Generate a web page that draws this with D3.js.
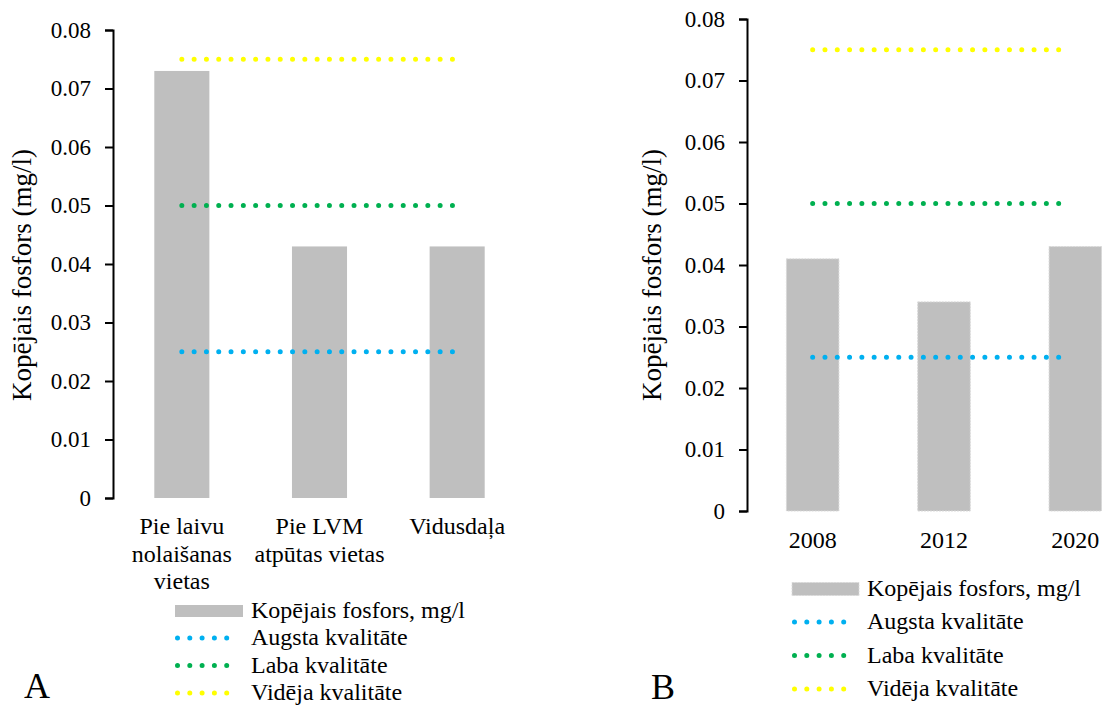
<!DOCTYPE html>
<html><head><meta charset="utf-8">
<script src="https://cdn.jsdelivr.net/npm/d3@7"></script>
<style>body{margin:0;background:#fff}svg{display:block}</style>
</head><body><svg id="c" width="1102" height="706"></svg>
<script>
const catsA = ["Pie laivu|nolaišanas|vietas", "Pie LVM|atpūtas vietas", "Vidusdaļa"];
const valsA = [0.073, 0.043, 0.043];
const catsB = ["2008", "2012", "2020"];
const valsB = [0.041, 0.034, 0.043];
const thresholds = [0.025, 0.05, 0.075];
const thresholdNames = ["Augsta kvalitāte", "Laba kvalitāte", "Vidēja kvalitāte"];
const thresholdColors = ["#00B0F0", "#00B050", "#FFFF00"];
const barName = "Kopējais fosfors, mg/l";
const yTicks = [0, 0.01, 0.02, 0.03, 0.04, 0.05, 0.06, 0.07, 0.08];
const yTitle = "Kopējais fosfors (mg/l)";
const FONT = '"Liberation Serif"';

const svg = d3.select("#c");

function txt(g, size) {
  return g.append("text").style("font-family", FONT).style("font-size", size + "px").attr("fill", "#000");
}

function panel(o) {
  const g = svg.append("g");
  const x = d3.scaleBand().domain(o.cats).range([o.x0, o.x1]).padding(0.6).paddingOuter(0.3);
  const y = d3.scaleLinear().domain([0, 0.08]).range([o.y0, o.y1]);
  g.selectAll("rect.bar").data(o.vals).enter().append("rect")
    .attr("x", (d, i) => x(o.cats[i])).attr("width", x.bandwidth())
    .attr("y", d => y(d)).attr("height", d => y(0) - y(d))
    .attr("fill", "#BFBFBF")
    .attr("stroke", o.dashedBar ? "#D9D9D9" : "none").attr("stroke-width", 1)
    .attr("stroke-dasharray", o.dashedBar ? "2 1" : null);
  const xa = x(o.cats[0]) + x.bandwidth() / 2;
  const xb = x(o.cats[o.cats.length - 1]) + x.bandwidth() / 2 - o.lineTrim;
  thresholds.forEach((t, i) => {
    g.append("line").attr("x1", xa).attr("x2", xb).attr("y1", y(t)).attr("y2", y(t))
      .attr("stroke", thresholdColors[i]).attr("stroke-width", 5)
      .attr("stroke-linecap", "round").attr("stroke-dasharray", "0 12.3");
  });
  const ax = g.append("g").attr("transform", `translate(${o.x0},0)`)
    .call(d3.axisLeft(y).tickValues(yTicks).tickSize(8).tickPadding(14)
      .tickFormat(d => d === 0 ? "0" : d3.format(".2f")(d)));
  ax.attr("font-family", null).attr("font-size", null);
  ax.select(".domain").attr("stroke", "#000").attr("stroke-width", 2);
  ax.selectAll(".tick line").attr("stroke", "#000").attr("stroke-width", 2);
  ax.selectAll(".tick text").style("font-family", FONT).style("font-size", "23px").attr("fill", "#000");
  txt(g, 27).attr("transform", `translate(${o.titleX},${o.titleY}) rotate(-90)`)
    .attr("text-anchor", "middle").text(yTitle);
  o.cats.forEach(c => {
    const cx = x(c) + x.bandwidth() / 2;
    c.split("|").forEach((ln, j) => {
      txt(g, 24).attr("x", cx).attr("y", o.labelY + j * o.labelLH).attr("text-anchor", "middle").text(ln);
    });
  });
  const L = o.legend;
  g.append("rect").attr("x", L.x).attr("y", L.y - L.rh / 2).attr("width", L.w).attr("height", L.rh)
    .attr("fill", "#BFBFBF").attr("stroke", o.dashedBar ? "#D9D9D9" : "none")
    .attr("stroke-dasharray", o.dashedBar ? "2 1" : null);
  txt(g, 24).attr("x", L.tx).attr("y", L.y + 7).text(barName);
  thresholdNames.forEach((n, i) => {
    const yy = L.y + L.dy0 + i * L.dy;
    g.append("line").attr("x1", L.x + 2.5).attr("x2", L.x + 2.5 + 5 * L.sp).attr("y1", yy).attr("y2", yy)
      .attr("stroke", thresholdColors[i]).attr("stroke-width", 5)
      .attr("stroke-linecap", "round").attr("stroke-dasharray", `0 ${L.sp}`);
    txt(g, 24).attr("x", L.tx).attr("y", yy + 7).text(n);
  });
  txt(g, 36).attr("x", o.letterX).attr("y", o.letterY).text(o.letter);
}

panel({cats: catsA, vals: valsA, x0: 113, x1: 526, y0: 498, y1: 30, dashedBar: false, lineTrim: 0,
  titleX: 31, titleY: 275, labelY: 534, labelLH: 27.5,
  legend: {x: 175, y: 611, w: 68, rh: 12, tx: 251, dy0: 27, dy: 27.5, sp: 12.3},
  letter: "A", letterX: 24, letterY: 698});
panel({cats: catsB, vals: valsB, x0: 747, x1: 1141, y0: 511, y1: 19, dashedBar: true, lineTrim: 5,
  titleX: 661, titleY: 275, labelY: 548, labelLH: 27,
  legend: {x: 792, y: 589, w: 67, rh: 13, tx: 867, dy0: 33, dy: 33.5, sp: 12.3},
  letter: "B", letterX: 651, letterY: 699});
</script></body></html>
